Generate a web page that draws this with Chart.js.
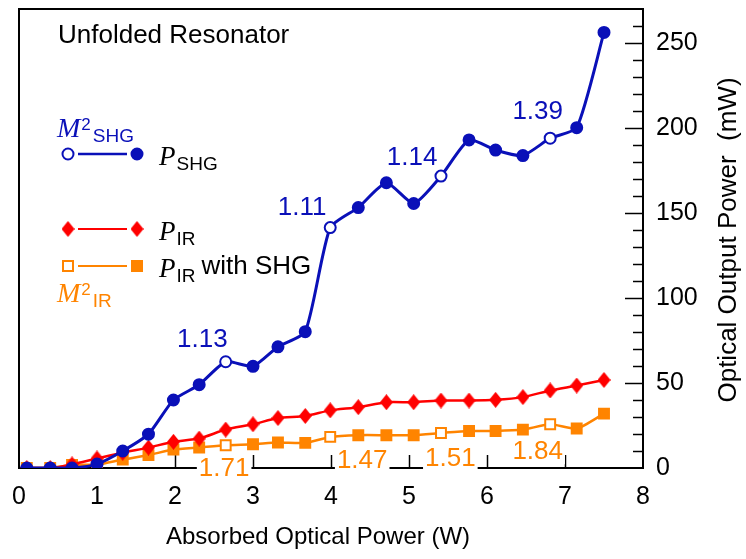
<!DOCTYPE html>
<html>
<head>
<meta charset="utf-8">
<script src="https://cdn.jsdelivr.net/npm/chart.js@4.4.0/dist/chart.umd.min.js"></script>
<style>
  html, body { margin: 0; padding: 0; background: #fff; }
  #wrap { width: 746px; height: 559px; }
</style>
</head>
<body>
<div id="wrap"><canvas id="chart" width="746" height="559"></canvas></div>
<script>
// absorbed optical power (W)
var power = [0.1, 0.4, 0.68, 1.0, 1.33, 1.66, 1.98, 2.31, 2.65, 3.0, 3.32, 3.67, 3.99, 4.35, 4.71, 5.06, 5.41, 5.77, 6.11, 6.46, 6.81, 7.15, 7.5];
// output powers (mW)
var pShg = [0, 0, 0, 2.3, 10, 19.9, 40, 49, 62.5, 59.8, 71.3, 80.2, 141.4, 153.2, 167.8, 155.6, 171.7, 193, 187, 183.8, 194, 200.2, 256.2];
var pIr = [0, 0, 2.1, 5.6, 9, 12, 15.4, 17.3, 22.6, 25.7, 29.4, 30.6, 33.9, 35.8, 38.7, 38.7, 39.7, 39.7, 40.1, 41.7, 45.6, 48.5, 51.8];
var pIrShg = [0, 0, 1.8, 2, 5, 7.6, 10.9, 12.1, 13.4, 14, 15, 14.8, 18.3, 19.3, 19.3, 19.3, 20.6, 21.8, 21.8, 22.6, 25.7, 23.2, 32];
// points where M2 was measured (open markers) and the values
var m2Index = [8, 12, 16, 20];
var m2Shg = ['1.13', '1.11', '1.14', '1.39'];
var m2Ir = ['1.71', '1.47', '1.51', '1.84'];
// where the M2 numbers sit (data units)
var m2ShgAtX = [2.35, 3.63, 5.04, 6.65];
var m2ShgAtY = [75.4, 153, 182.2, 209.7];
var m2IrAtX = [2.63, 4.40, 5.53, 6.65];
var m2IrAtY = [-0.6, 4.1, 5.3, 9.3];

var xTicks = [1, 2, 3, 4, 5, 6, 7];

var blue = '#0a10b8';
var red = '#ff0000';
var orange = '#ff8400';
var sans = "'Liberation Sans', Arial, sans-serif";
var serif = "'Liberation Serif', 'Times New Roman', serif";

function pts(ys) {
    return power.map(function (x, i) { return { x: x, y: ys[i] }; });
}
function isOpen(i) { return m2Index.indexOf(i) >= 0; }

function diamond(w, h, color) {
    var c = document.createElement('canvas');
    c.width = w; c.height = h;
    var g = c.getContext('2d');
    g.fillStyle = color;
    g.beginPath();
    g.moveTo(w / 2, 0); g.lineTo(w, h / 2); g.lineTo(w / 2, h); g.lineTo(0, h / 2);
    g.closePath();
    g.fill();
    return c;
}
var redDiamond = diamond(13, 16, red);

function drawMarker(ctx, kind, x, y, color, open) {
    ctx.save();
    ctx.lineWidth = 2;
    ctx.strokeStyle = color;
    ctx.fillStyle = open ? '#fff' : color;
    if (kind === 'circle') {
        ctx.beginPath(); ctx.arc(x, y, 5.5, 0, Math.PI * 2); ctx.fill(); ctx.stroke();
    } else if (kind === 'square') {
        ctx.beginPath(); ctx.rect(x - 5, y - 5, 10, 10); ctx.fill(); ctx.stroke();
    } else {
        ctx.drawImage(redDiamond, x - 6.5, y - 8);
    }
    ctx.restore();
}

// P or M with sub/superscripts
function symbol(ctx, main, mainSize, sup, sub, x, y, color) {
    ctx.fillStyle = color;
    ctx.textBaseline = 'alphabetic';
    ctx.textAlign = 'left';
    ctx.font = 'italic ' + mainSize + 'px ' + serif;
    ctx.fillText(main, x, y);
    var w = ctx.measureText(main).width;
    var nx = x + w + 1;
    if (sup) {
        ctx.font = '17px ' + sans;
        ctx.fillText(sup, nx, y - 7);
        nx += ctx.measureText(sup).width + 2;
    }
    ctx.font = '19px ' + sans;
    ctx.fillText(sub, nx, y + 5);
    return nx + ctx.measureText(sub).width;
}

var decor = {
    id: 'decor',
    beforeDatasetsDraw: function (chart) {
        var ctx = chart.ctx, a = chart.chartArea;
        var xs = chart.scales.x, ys = chart.scales.y;
        ctx.save();
        ctx.strokeStyle = '#000';
        ctx.lineWidth = 2;
        ctx.beginPath();
        ctx.moveTo(a.left, a.bottom + 1);
        ctx.lineTo(a.left, a.top);
        ctx.lineTo(a.right, a.top);
        ctx.stroke();
        ctx.lineWidth = 1.5;
        // inward ticks on the bottom axis
        xTicks.forEach(function (v) {
            var px = Math.round(xs.getPixelForValue(v)) + 0.5;
            ctx.beginPath(); ctx.moveTo(px, a.bottom); ctx.lineTo(px, a.bottom - 13); ctx.stroke();
        });
        // inward ticks on the right axis
        for (var v = 10; v < ys.max; v += 10) {
            var py = Math.round(ys.getPixelForValue(v)) + 0.5;
            var len = v % 50 === 0 ? 18 : 10;
            ctx.beginPath(); ctx.moveTo(a.right, py); ctx.lineTo(a.right - len, py); ctx.stroke();
        }
        ctx.restore();
    },
    afterDraw: function (chart) {
        var ctx = chart.ctx, a = chart.chartArea;
        var xs = chart.scales.x, ys = chart.scales.y;
        ctx.save();
        ctx.font = '26px ' + sans;
        ctx.textAlign = 'center';
        ctx.textBaseline = 'middle';
        m2Shg.forEach(function (t, i) {
            ctx.fillStyle = blue;
            ctx.fillText(t, xs.getPixelForValue(m2ShgAtX[i]), ys.getPixelForValue(m2ShgAtY[i]));
        });
        m2Ir.forEach(function (t, i) {
            var px = xs.getPixelForValue(m2IrAtX[i]);
            var py = ys.getPixelForValue(m2IrAtY[i]);
            var w = ctx.measureText(t).width;
            ctx.fillStyle = '#fff';
            ctx.fillRect(px - w / 2 - 2, py - 11, w + 4, 23);
            ctx.fillStyle = orange;
            ctx.fillText(t, px, py);
        });

        // title inside the frame
        ctx.textAlign = 'left';
        ctx.textBaseline = 'alphabetic';
        ctx.fillStyle = '#000';
        ctx.fillText('Unfolded Resonator', 58, 43);

        // x axis title, a bit left of centre as in the original
        ctx.save();
        ctx.font = '24px ' + sans;
        ctx.textAlign = 'center';
        ctx.textBaseline = 'middle';
        ctx.fillText('Absorbed Optical Power (W)', 318, 537);
        ctx.restore();

        // right axis title, read bottom to top
        ctx.save();
        ctx.translate(729, 240);
        ctx.rotate(-Math.PI / 2);
        ctx.textAlign = 'center';
        ctx.textBaseline = 'middle';
        ctx.fillText('Optical Output Power  (mW)', 0, 0);
        ctx.restore();

        // legend
        var rows = [
            { y: 154, color: blue, kind: 'circle', sub: 'SHG' },
            { y: 229, color: red, kind: 'diamond', sub: 'IR' },
            { y: 266, color: orange, kind: 'square', sub: 'IR' }
        ];
        rows.forEach(function (r, i) {
            ctx.strokeStyle = r.color;
            ctx.lineWidth = i === 0 ? 2.5 : 2;
            ctx.beginPath(); ctx.moveTo(78, r.y); ctx.lineTo(127, r.y); ctx.stroke();
            drawMarker(ctx, r.kind, 68, r.y, r.color, r.kind !== 'diamond');
            drawMarker(ctx, r.kind, 137, r.y, r.color, false);
            var end = symbol(ctx, 'P', 27, null, r.sub, 159, r.y + 11, '#000');
            if (i === 2) {
                ctx.font = '26px ' + sans;
                ctx.fillStyle = '#000';
                ctx.fillText('with SHG', end + 6, r.y + 8);
            }
        });
        symbol(ctx, 'M', 28, '2', 'SHG', 57, 137, blue);
        symbol(ctx, 'M', 28, '2', 'IR', 57, 302, orange);
        ctx.restore();
    }
};

var ctx = document.getElementById('chart').getContext('2d');

var chart = new Chart(ctx, {
    type: 'line',
    data: {
        datasets: [{
            label: 'P SHG',
            data: pts(pShg),
            borderColor: blue,
            borderWidth: 3,
            tension: 0.2,
            pointRadius: 5.5,
            pointBorderWidth: 2,
            pointBorderColor: blue,
            pointBackgroundColor: power.map(function (x, i) { return isOpen(i) ? '#fff' : blue; })
        },
        {
            label: 'P IR',
            data: pts(pIr),
            borderColor: red,
            borderWidth: 2.5,
            tension: 0.2,
            pointStyle: redDiamond
        },
        {
            label: 'P IR with SHG',
            data: pts(pIrShg),
            borderColor: orange,
            borderWidth: 2.5,
            tension: 0.2,
            pointStyle: 'rect',
            pointRadius: 7,
            pointBorderWidth: 2,
            pointBorderColor: orange,
            pointBackgroundColor: power.map(function (x, i) { return isOpen(i) ? '#fff' : orange; })
        }]
    },
    options: {
        responsive: false,
        animation: false,
        layout: { padding: { left: 19, top: 6, right: 0, bottom: 0 } },
        plugins: {
            legend: { display: false },
            tooltip: { enabled: false }
        },
        scales: {
            x: {
                type: 'linear',
                position: 'bottom',
                min: 0,
                max: 8,
                grid: { display: false, drawTicks: false },
                border: { display: true, color: '#000', width: 2 },
                ticks: {
                    stepSize: 1,
                    padding: 14,
                    maxRotation: 0,
                    color: '#000',
                    font: { family: sans, size: 25 }
                },
                title: { display: false },
                afterFit: function (s) {
                    s.height = 91;
                    s.paddingLeft = 0;
                    s.paddingRight = 0;
                }
            },
            y: {
                type: 'linear',
                position: 'right',
                min: 0,
                max: 270,
                grid: { display: false, drawTicks: false },
                border: { display: true, color: '#000', width: 2 },
                ticks: {
                    stepSize: 50,
                    includeBounds: false,
                    padding: 13,
                    color: '#000',
                    font: { family: sans, size: 25 }
                },
                afterFit: function (s) {
                    s.width = 103;
                    s.paddingTop = 0;
                    s.paddingBottom = 0;
                }
            }
        }
    },
    plugins: [decor]
});
</script>
</body>
</html>
